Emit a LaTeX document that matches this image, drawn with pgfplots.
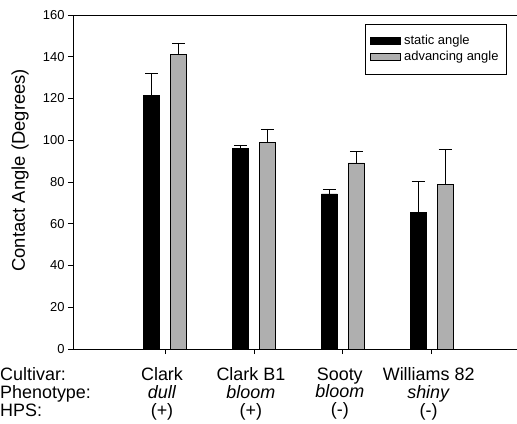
\documentclass[border=0pt]{standalone}
\usepackage{fontspec}
\setmainfont{Liberation Sans}
\usepackage{pgfplots}
\pgfplotsset{compat=1.18}
\definecolor{advgray}{RGB}{175,175,175}
\begin{document}
\begin{tikzpicture}
\begin{axis}[
  at={(0,0)}, anchor=south west,
  scale only axis, width=444bp, height=334bp,
  xmin=-0.035, xmax=4.96, ymin=0, ymax=160,
  axis x line=bottom, axis y line=left,
  x axis line style={-, line width=0.8pt},
  y axis line style={-, line width=0.8pt},
  ytick={0,20,...,160},
  xtick={1,2,3,4},
  xticklabels={{Clark\\\textit{dull}\\(+)},{Clark B1\\\textit{bloom}\\(+)},{Sooty\\\textit{bloom}\\(-)},{Williams 82\\\textit{shiny}\\(-)}},
  tick align=outside, major tick length=5bp,
  tick style={black, line width=0.6pt},
  /pgf/number format/assume math mode=true,
  yticklabel style={font=\fontsize{13}{15}\selectfont},
  xticklabel style={align=center, font=\fontsize{18}{18}\selectfont, xshift=-3bp, yshift=-10bp},
  ylabel={Contact Angle (Degrees)},
  ylabel style={at={(axis description cs:-0.119,0.535)}, anchor=center, font=\fontsize{18.5}{20}\selectfont},
  ybar=11bp, bar width=16bp,
  legend style={at={(rel axis cs:0.977,0.973)}, anchor=north east, draw=black, line width=0.6pt,
    row sep=0.5bp, inner xsep=4bp, inner ysep=9bp,
    nodes={font=\fontsize{13}{15}\selectfont, text height=9.5bp, text depth=3bp, inner xsep=4bp, inner ysep=1.5bp}},
  legend cell align=left,
  legend image code/.code={\draw[#1, line width=0.4pt] (0bp,-3.5bp) rectangle (30bp,3.5bp);},
  error bars/y dir=plus, error bars/y explicit,
  error bars/error bar style={black, line width=0.6pt},
  error bars/error mark options={black, line width=0.6pt, mark size=6.5bp, rotate=90},
]
\addplot[fill=black, draw=black, line width=0.4pt] coordinates {
  (1,121.5) +- (0,10.7)
  (2,96.0) +- (0,1.6)
  (3,74.3) +- (0,2.3)
  (4,65.3) +- (0,14.8)
};
\addlegendentry{static angle}
\addplot[fill=advgray, draw=black, line width=0.4pt] coordinates {
  (1,141.3) +- (0,5.3)
  (2,99.0) +- (0,6.4)
  (3,89.2) +- (0,5.3)
  (4,79.0) +- (0,16.5)
};
\addlegendentry{advancing angle}
\draw[line width=0.8pt] (rel axis cs:0,1) -- (rel axis cs:1,1);
\end{axis}
\node[anchor=base west, font=\fontsize{18}{18}\selectfont, inner sep=0pt] at (-73bp,-31.5bp) {Cultivar:};
\node[anchor=base west, font=\fontsize{18}{18}\selectfont, inner sep=0pt] at (-73bp,-49.5bp) {Phenotype:};
\node[anchor=base west, font=\fontsize{18}{18}\selectfont, inner sep=0pt] at (-73bp,-67.5bp) {HPS:};
\pgfresetboundingbox
\path (-73bp,-75bp) rectangle (444bp,349bp);
\end{tikzpicture}
\end{document}
